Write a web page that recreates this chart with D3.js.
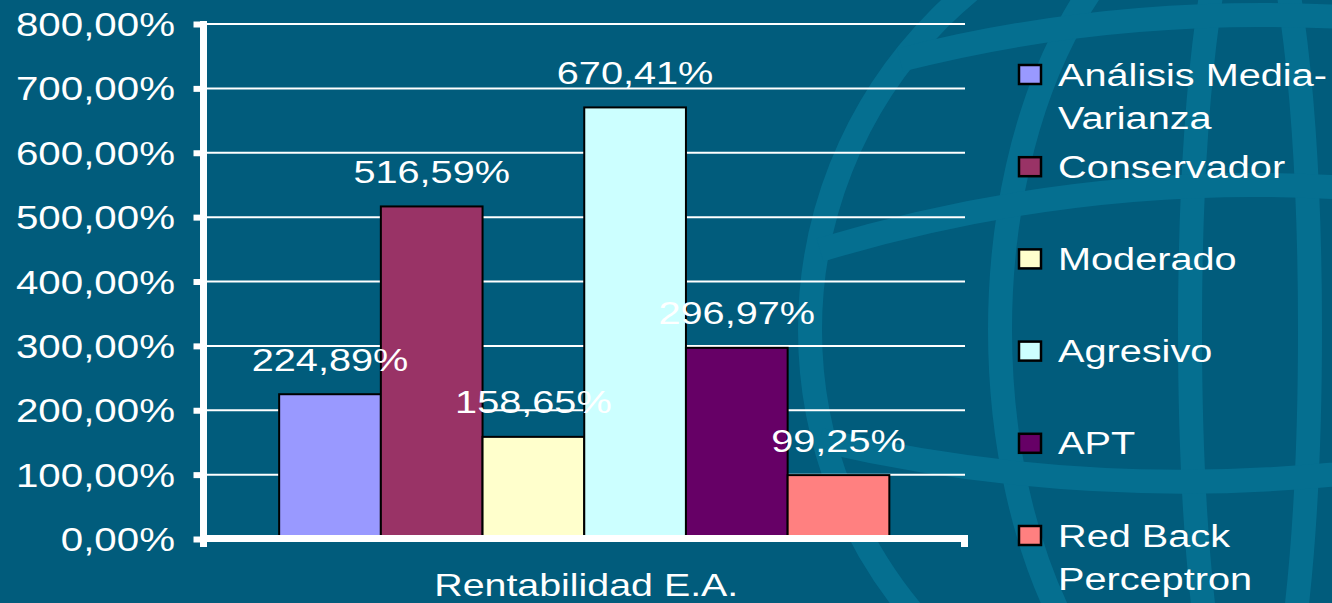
<!DOCTYPE html>
<html>
<head>
<meta charset="utf-8">
<script src="https://cdn.jsdelivr.net/npm/d3@7"></script>
<style>
  html, body { margin: 0; padding: 0; background: #015c7c; }
  svg { display: block; }
  text { font-family: "Liberation Sans", Arial, sans-serif; fill: #ffffff; }
</style>
</head>
<body>
<svg id="chart" width="1332" height="603"></svg>
<script>
// ---- data ----
const categories = ["Rentabilidad E.A."];
const seriesNames = ["Análisis Media-Varianza", "Conservador", "Moderado", "Agresivo", "APT", "Red Back Perceptron"];
const seriesValues = [224.89, 516.59, 158.65, 670.41, 296.97, 99.25];
const seriesColors = ["#9999ff", "#993366", "#ffffcc", "#ccffff", "#660066", "#ff8080"];
const legendLines = [["Análisis Media-", "Varianza"], ["Conservador"], ["Moderado"], ["Agresivo"], ["APT"], ["Red Back", "Perceptron"]];
const yTicks = [0, 100, 200, 300, 400, 500, 600, 700, 800];

const fmt = v => d3.format(".2f")(v).replace(".", ",") + "%";

const svg = d3.select("#chart");
const W = 1332, H = 603;

svg.append("rect").attr("width", W).attr("height", H).attr("fill", "#015c7c");

// decorative globe in the background
const globe = svg.append("g").attr("fill", "none").attr("stroke", "#056f90").attr("stroke-width", 24);
globe.append("circle").attr("cx", 1250).attr("cy", 330).attr("r", 440);
globe.append("ellipse").attr("cx", 1250).attr("cy", 330).attr("rx", 250).attr("ry", 440);
globe.append("ellipse").attr("cx", 1250).attr("cy", 330).attr("rx", 60).attr("ry", 440);
globe.append("path").attr("d", "M 820 250 Q 1250 120 1700 250");
globe.append("path").attr("d", "M 820 440 Q 1250 540 1700 400");
globe.append("path").attr("d", "M 900 60 Q 1250 -30 1650 60");

const x0 = 203.5, x1 = 965;
const y = d3.scaleLinear().domain([0, 800]).range([539, 24]);
const xCat = d3.scaleBand().domain(categories).range([x0, x1]).paddingOuter(0.124).paddingInner(0);
const xSer = d3.scaleBand().domain(seriesNames).range([0, xCat.bandwidth()]);

function stretchedText(g, x, yy, str, size, anchor, sx) {
  return g.append("g").attr("transform", `translate(${x},${yy}) scale(${sx || 1.24},1)`)
    .append("text").attr("x", 0).attr("y", 0)
    .attr("font-size", size).attr("text-anchor", anchor || "start").text(str);
}

// gridlines
svg.append("g").selectAll("line").data(yTicks.filter(d => d > 0)).join("line")
  .attr("x1", 207).attr("x2", x1)
  .attr("y1", d => y(d)).attr("y2", d => y(d))
  .attr("stroke", "#ffffff").attr("stroke-width", 2);

// bars
const bars = svg.append("g");
categories.forEach(cat => {
  bars.selectAll("rect").data(seriesValues).join("rect")
    .attr("x", (d, i) => xCat(cat) + xSer(seriesNames[i]))
    .attr("y", d => y(d))
    .attr("width", xSer.bandwidth())
    .attr("height", d => y(0) - y(d))
    .attr("fill", (d, i) => seriesColors[i])
    .attr("stroke", "#000000").attr("stroke-width", 2);
});

// y axis via d3.axisLeft (ticks only), then restyled
const yAxis = svg.append("g").attr("transform", `translate(${x0},0)`)
  .call(d3.axisLeft(y).tickValues(yTicks).tickSize(10).tickFormat(""));
yAxis.select(".domain").remove();
yAxis.selectAll(".tick line").attr("stroke", "#ffffff").attr("stroke-width", 6);

// axis labels
const yl = svg.append("g");
yTicks.forEach(t => stretchedText(yl, 175, y(t) + 12, fmt(t), 32.5, "end"));

// thick axis lines
svg.append("line").attr("x1", x0).attr("x2", x0).attr("y1", 21).attr("y2", 547)
  .attr("stroke", "#ffffff").attr("stroke-width", 7);
svg.append("line").attr("x1", 200).attr("x2", 968).attr("y1", y(0) - 0.5).attr("y2", y(0) - 0.5)
  .attr("stroke", "#ffffff").attr("stroke-width", 7);
svg.append("line").attr("x1", x1 - 0.5).attr("x2", x1 - 0.5).attr("y1", 536).attr("y2", 547)
  .attr("stroke", "#ffffff").attr("stroke-width", 7);

// value labels
const vl = svg.append("g");
seriesValues.forEach((v, i) => {
  const cx = xCat(categories[0]) + xSer(seriesNames[i]) + xSer.bandwidth() / 2;
  stretchedText(vl, cx, y(v) - 23.5, fmt(v), 32, "middle");
});

// category label
stretchedText(svg, xCat(categories[0]) + xCat.bandwidth() / 2 + 2, 596, categories[0], 32, "middle", 1.23);

// legend
const lg = svg.append("g");
legendLines.forEach((lines, i) => {
  const top = 65 + i * 92.2;
  lg.append("rect").attr("x", 1019).attr("y", top).attr("width", 22).attr("height", 19)
    .attr("fill", seriesColors[i]).attr("stroke", "#000000").attr("stroke-width", 2.5);
  lines.forEach((ln, j) => stretchedText(lg, 1058, top + 20.5 + j * 43, ln, 31, "start", 1.28));
});
</script>
</body>
</html>
